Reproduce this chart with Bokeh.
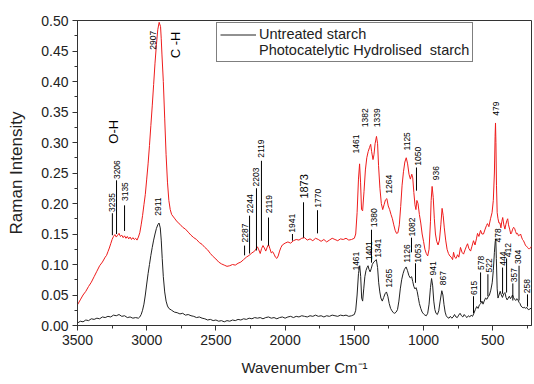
import math
from bokeh.plotting import figure
from bokeh.models import (Range1d, SingleIntervalTicker, NumeralTickFormatter,
                          Legend, LegendItem)
from bokeh.core.properties import value
from bokeh.embed import file_html
from bokeh.resources import INLINE

FONT = "Liberation Sans"

# ---------------- data: photocatalytic hydrolysed starch (red) ----------------
red_wn = [3500, 3480, 3460, 3440, 3420, 3400, 3380, 3360, 3340, 3320, 3300, 3290, 3280, 3270,
          3260, 3250, 3240, 3230, 3220, 3210, 3200, 3190, 3180, 3170, 3160, 3150, 3140, 3130,
          3120, 3110, 3100, 3090, 3080, 3070, 3060, 3050, 3040, 3030, 3020, 3010, 3000, 2990,
          2980, 2970, 2960, 2950, 2940, 2930, 2920, 2910, 2900, 2895, 2890, 2880, 2870, 2860,
          2850, 2840, 2830, 2820, 2800, 2780, 2760, 2740, 2720, 2700, 2680, 2660, 2640, 2620,
          2600, 2580, 2560, 2540, 2520, 2500, 2480, 2460, 2440, 2420, 2400, 2380, 2360, 2340,
          2320, 2300, 2280, 2260, 2240, 2220, 2200, 2190, 2180, 2170, 2160, 2150, 2140, 2130,
          2120, 2110, 2100, 2090, 2080, 2070, 2060, 2050, 2040, 2030, 2020, 2000, 1980, 1960,
          1940, 1920, 1900, 1880, 1860, 1840, 1820, 1800, 1780, 1760, 1740, 1720, 1700, 1680,
          1660, 1640, 1620, 1600, 1580, 1560, 1540, 1520, 1500, 1490, 1480, 1470, 1462, 1455,
          1448, 1440, 1430, 1420, 1410, 1400, 1390, 1382, 1375, 1365, 1358, 1350, 1340, 1332,
          1325, 1315, 1305, 1295, 1285, 1275, 1265, 1255, 1245, 1235, 1225, 1215, 1205, 1195,
          1185, 1175, 1165, 1155, 1145, 1135, 1125, 1115, 1105, 1095, 1085, 1078, 1070, 1062,
          1055, 1048, 1040, 1030, 1020, 1010, 1000, 990, 980, 970, 960, 950, 945, 938,
          930, 922, 914, 905, 895, 885, 875, 866, 858, 850, 840, 830, 820, 810,
          800, 790, 783, 775, 765, 754, 745, 733, 722, 711, 700, 690, 682, 672,
          660, 650, 639, 628, 618, 610, 600, 588, 578, 567, 555, 545, 538, 528,
          516, 505, 496, 488, 483, 480, 477, 473, 468, 462, 455, 448, 441, 435,
          428, 420, 412, 405, 398, 392, 386, 378, 370, 364, 356, 349, 342, 335,
          328, 321, 314, 306, 299, 292, 285, 278, 270, 263, 256, 249, 242, 235,
          227, 220]
red_int = [0.034, 0.042, 0.050, 0.056, 0.064, 0.071, 0.080, 0.089, 0.098, 0.104, 0.112, 0.115, 0.121, 0.127,
           0.134, 0.141, 0.146, 0.149, 0.145, 0.148, 0.151, 0.146, 0.148, 0.144, 0.147, 0.143, 0.146, 0.142,
           0.145, 0.141, 0.144, 0.141, 0.143, 0.140, 0.145, 0.152, 0.165, 0.180, 0.198, 0.215, 0.240, 0.265,
           0.295, 0.328, 0.360, 0.395, 0.430, 0.460, 0.485, 0.497, 0.490, 0.470, 0.445, 0.400, 0.340, 0.280,
           0.235, 0.205, 0.190, 0.182, 0.176, 0.170, 0.166, 0.161, 0.158, 0.153, 0.148, 0.144, 0.141, 0.136,
           0.133, 0.128, 0.124, 0.118, 0.113, 0.109, 0.104, 0.101, 0.099, 0.097, 0.098, 0.100, 0.099, 0.102,
           0.104, 0.108, 0.112, 0.115, 0.119, 0.122, 0.129, 0.124, 0.118, 0.126, 0.131, 0.127, 0.122, 0.128,
           0.133, 0.126, 0.119, 0.121, 0.117, 0.112, 0.110, 0.114, 0.122, 0.128, 0.132, 0.135, 0.137, 0.135,
           0.139, 0.141, 0.140, 0.143, 0.144, 0.140, 0.142, 0.139, 0.143, 0.141, 0.138, 0.141, 0.137, 0.140,
           0.143, 0.141, 0.139, 0.142, 0.141, 0.143, 0.140, 0.141, 0.143, 0.150, 0.185, 0.240, 0.265, 0.235,
           0.190, 0.188, 0.220, 0.255, 0.275, 0.285, 0.292, 0.297, 0.285, 0.272, 0.280, 0.298, 0.310, 0.298,
           0.262, 0.225, 0.200, 0.190, 0.198, 0.206, 0.208, 0.196, 0.190, 0.182, 0.175, 0.165, 0.156, 0.151,
           0.152, 0.165, 0.195, 0.230, 0.252, 0.268, 0.275, 0.265, 0.248, 0.240, 0.248, 0.242, 0.218, 0.198,
           0.190, 0.205, 0.200, 0.182, 0.168, 0.150, 0.138, 0.125, 0.118, 0.114, 0.125, 0.170, 0.205, 0.228,
           0.210, 0.175, 0.150, 0.138, 0.132, 0.140, 0.165, 0.192, 0.180, 0.160, 0.140, 0.125, 0.118, 0.114,
           0.112, 0.108, 0.120, 0.112, 0.110, 0.116, 0.112, 0.128, 0.120, 0.117, 0.124, 0.130, 0.134, 0.126,
           0.122, 0.130, 0.139, 0.132, 0.142, 0.151, 0.146, 0.156, 0.150, 0.150, 0.158, 0.164, 0.167, 0.162,
           0.175, 0.185, 0.205, 0.250, 0.310, 0.332, 0.300, 0.230, 0.185, 0.175, 0.168, 0.168, 0.160, 0.170,
           0.177, 0.165, 0.158, 0.166, 0.172, 0.175, 0.165, 0.158, 0.150, 0.152, 0.158, 0.161, 0.159, 0.154,
           0.150, 0.151, 0.147, 0.148, 0.150, 0.145, 0.141, 0.139, 0.135, 0.131, 0.130, 0.128, 0.126, 0.126,
           0.127, 0.130]

# ---------------- data: untreated starch (black) ----------------
blk_wn = [3500, 3480, 3460, 3440, 3420, 3400, 3380, 3360, 3340, 3320, 3300, 3280, 3260, 3240,
          3220, 3200, 3180, 3160, 3140, 3120, 3100, 3080, 3060, 3050, 3040, 3030, 3020, 3010,
          3000, 2990, 2980, 2970, 2960, 2950, 2940, 2930, 2920, 2911, 2902, 2895, 2888, 2880,
          2870, 2860, 2850, 2840, 2820, 2800, 2780, 2760, 2740, 2720, 2700, 2680, 2660, 2640,
          2620, 2600, 2580, 2560, 2540, 2520, 2500, 2480, 2460, 2440, 2420, 2400, 2380, 2360,
          2340, 2320, 2300, 2280, 2260, 2240, 2220, 2200, 2180, 2160, 2140, 2120, 2100, 2080,
          2060, 2040, 2020, 2000, 1980, 1960, 1940, 1920, 1900, 1880, 1860, 1840, 1820, 1800,
          1780, 1760, 1740, 1720, 1700, 1680, 1660, 1640, 1620, 1600, 1580, 1560, 1540, 1520,
          1500, 1490, 1480, 1470, 1461, 1454, 1447, 1440, 1432, 1424, 1416, 1408, 1401, 1394,
          1386, 1378, 1370, 1360, 1350, 1341, 1332, 1324, 1316, 1308, 1298, 1288, 1278, 1268,
          1258, 1248, 1238, 1228, 1218, 1208, 1198, 1188, 1178, 1168, 1158, 1148, 1138, 1126,
          1116, 1106, 1096, 1086, 1078, 1070, 1062, 1054, 1046, 1038, 1030, 1020, 1010, 1000,
          990, 980, 970, 960, 950, 942, 934, 926, 918, 910, 900, 890, 880, 868,
          860, 852, 844, 836, 826, 816, 806, 796, 786, 776, 766, 756, 746, 736,
          726, 716, 706, 696, 686, 676, 666, 656, 646, 636, 626, 616, 606, 596,
          586, 578, 570, 562, 552, 542, 534, 524, 514, 504, 496, 488, 482, 478,
          474, 468, 462, 455, 446, 438, 430, 420, 412, 404, 396, 388, 380, 372,
          364, 357, 350, 342, 334, 326, 318, 310, 303, 296, 288, 280, 272, 264,
          256, 248, 240, 232, 220]
blk_int = [0.004, 0.007, 0.006, 0.009, 0.008, 0.011, 0.010, 0.012, 0.011, 0.014, 0.013, 0.015, 0.014, 0.017,
           0.016, 0.018, 0.015, 0.016, 0.013, 0.014, 0.012, 0.013, 0.012, 0.014, 0.018, 0.025, 0.035, 0.050,
           0.068, 0.085, 0.100, 0.115, 0.128, 0.140, 0.150, 0.159, 0.165, 0.168, 0.160, 0.140, 0.110, 0.080,
           0.055, 0.040, 0.032, 0.028, 0.025, 0.022, 0.021, 0.019, 0.020, 0.017, 0.018, 0.016, 0.015, 0.013,
           0.014, 0.012, 0.011, 0.009, 0.010, 0.008, 0.009, 0.007, 0.008, 0.006, 0.008, 0.007, 0.009, 0.008,
           0.010, 0.009, 0.011, 0.010, 0.012, 0.011, 0.013, 0.012, 0.013, 0.011, 0.013, 0.014, 0.012, 0.013,
           0.011, 0.013, 0.014, 0.012, 0.014, 0.015, 0.013, 0.015, 0.014, 0.016, 0.015, 0.014, 0.016, 0.015,
           0.017, 0.015, 0.016, 0.014, 0.016, 0.015, 0.017, 0.016, 0.015, 0.017, 0.016, 0.017, 0.015, 0.016,
           0.018, 0.025, 0.050, 0.085, 0.098, 0.080, 0.045, 0.040, 0.060, 0.080, 0.090, 0.095, 0.098, 0.092,
           0.088, 0.093, 0.100, 0.104, 0.106, 0.108, 0.095, 0.070, 0.055, 0.045, 0.040, 0.046, 0.052, 0.055,
           0.048, 0.036, 0.028, 0.024, 0.021, 0.020, 0.022, 0.026, 0.040, 0.060, 0.075, 0.085, 0.092, 0.096,
           0.090, 0.082, 0.078, 0.080, 0.072, 0.064, 0.060, 0.062, 0.056, 0.046, 0.036, 0.028, 0.022, 0.019,
           0.017, 0.016, 0.020, 0.035, 0.062, 0.077, 0.065, 0.040, 0.026, 0.020, 0.018, 0.024, 0.040, 0.057,
           0.050, 0.034, 0.022, 0.016, 0.013, 0.012, 0.015, 0.012, 0.014, 0.018, 0.014, 0.013, 0.017, 0.020,
           0.016, 0.014, 0.018, 0.015, 0.013, 0.016, 0.014, 0.017, 0.015, 0.020, 0.026, 0.031, 0.028, 0.034,
           0.036, 0.040, 0.035, 0.040, 0.045, 0.043, 0.047, 0.050, 0.058, 0.070, 0.090, 0.120, 0.138, 0.142,
           0.110, 0.060, 0.045, 0.050, 0.056, 0.050, 0.046, 0.052, 0.054, 0.046, 0.042, 0.045, 0.048, 0.044,
           0.047, 0.050, 0.046, 0.043, 0.041, 0.044, 0.042, 0.038, 0.036, 0.032, 0.030, 0.029, 0.030, 0.028,
           0.030, 0.027, 0.026, 0.027, 0.029]

# ---------------- peak annotations ----------------
red_labels = ["3235", "3206", "3135", "2907", "2287", "2244", "2203", "2119", "2119", "1941",
              "1770", "1461", "1382", "1339", "1264", "1125", "1050", "936", "479"]
red_text_x = [3248, 3218, 3160, 2958, 2293, 2257, 2212, 2171, 2120, 1947,
              1766, 1487, 1426, 1334, 1253, 1123, 1038, 913, 473]
red_text_y = [0.186, 0.240, 0.204, 0.452, 0.136, 0.184, 0.228, 0.275, 0.184, 0.152,
              0.193, 0.282, 0.325, 0.325, 0.216, 0.287, 0.262, 0.238, 0.344]
red_lead_x = [3248, 3218, 3160, 2207, 2293, 2257, 2207, 2171, 2120, 1947, 1766, 1051]
red_lead_y0 = [0.148, 0.150, 0.155, 0.123, 0.115, 0.118, 0.123, 0.139, 0.131, 0.139, 0.151, 0.221]
red_lead_y1 = [0.184, 0.238, 0.197, 0.123, 0.131, 0.180, 0.225, 0.270, 0.177, 0.150, 0.189, 0.259]

big_label = ["1873"]
big_label_x = [1867]
big_label_y = [0.208]
big_lead = ([1867], [0.144], [0.202])

blk_labels = ["2911", "1461", "1401", "1380", "1341", "1265", "1126", "1082", "1053", "941",
              "867", "615", "578", "522", "478", "444", "412", "357", "304", "258"]
blk_text_x = [2915, 1491, 1397, 1361, 1332, 1253, 1123, 1080, 1043, 935,
              856, 639, 588, 530, 465, 429, 393, 350, 314, 249]
blk_text_y = [0.180, 0.090, 0.107, 0.161, 0.111, 0.062, 0.103, 0.146, 0.103, 0.082,
              0.066, 0.050, 0.091, 0.087, 0.136, 0.098, 0.112, 0.071, 0.101, 0.053]
blk_lead_x = [1376, 1087, 1058, 639, 588, 535, 429, 400, 355, 310, 249]
blk_lead_y0 = [0.103, 0.120, 0.070, 0.020, 0.038, 0.048, 0.052, 0.054, 0.041, 0.041, 0.031]
blk_lead_y1 = [0.157, 0.144, 0.102, 0.048, 0.087, 0.084, 0.095, 0.110, 0.069, 0.098, 0.051]

group_labels = ["O-H", "C -H"]
group_x = [3240, 2792]
group_y = [0.298, 0.438]

legend_labels = ["Untreated starch", "Photocatelytic Hydrolised  starch"]

# ---------------- figure ----------------
p = figure(width=534, height=384, output_backend="svg", toolbar_location=None,
           x_range=Range1d(3500, 220), y_range=Range1d(0, 0.5),
           min_border_left=77, min_border_right=3, min_border_top=20, min_border_bottom=59)
p.background_fill_color = "white"
p.border_fill_color = "white"
p.outline_line_color = "#333333"
p.outline_line_width = 1
p.xgrid.visible = False
p.ygrid.visible = False

red_r = p.line(red_wn, red_int, line_color="#ee1c1c", line_width=1)
blk_r = p.line(blk_wn, blk_int, line_color="#222222", line_width=1)

p.segment(red_lead_x, red_lead_y0, red_lead_x, red_lead_y1, line_color="black", line_width=1)
p.segment(big_lead[0], big_lead[1], big_lead[0], big_lead[2], line_color="black", line_width=1)
p.segment(blk_lead_x, blk_lead_y0, blk_lead_x, blk_lead_y1, line_color="black", line_width=1)

ang = math.pi / 2
p.text(x=red_text_x, y=red_text_y, text=red_labels, angle=ang, text_align="left",
       text_baseline="middle", text_font=value(FONT), text_font_size=value("8.5px"),
       text_color="black")
p.text(x=blk_text_x, y=blk_text_y, text=blk_labels, angle=ang, text_align="left",
       text_baseline="middle", text_font=value(FONT), text_font_size=value("8.5px"),
       text_color="black")
p.text(x=big_label_x, y=big_label_y, text=big_label, angle=ang, text_align="left",
       text_baseline="middle", text_font=value(FONT), text_font_size=value("11px"),
       text_color="black")
p.text(x=group_x, y=group_y, text=group_labels, angle=ang, text_align="left",
       text_baseline="middle", text_font=value(FONT), text_font_size=value("13px"),
       text_color="black")

p.xaxis.ticker = SingleIntervalTicker(interval=500, num_minor_ticks=2)
p.yaxis.ticker = SingleIntervalTicker(interval=0.05, num_minor_ticks=2)
p.yaxis.formatter = NumeralTickFormatter(format="0.00")
for ax in (p.xaxis[0], p.yaxis[0]):
    ax.axis_line_color = "#333333"
    ax.major_tick_line_color = "#333333"
    ax.minor_tick_line_color = "#333333"
    ax.major_tick_out = 5
    ax.major_tick_in = 0
    ax.minor_tick_out = 3
    ax.minor_tick_in = 0
    ax.major_label_text_font = FONT
    ax.major_label_text_font_size = "14px"
    ax.major_label_text_color = "#222222"
    ax.major_label_standoff = 4
    ax.axis_label_text_font = FONT
    ax.axis_label_text_font_style = "normal"
    ax.axis_label_text_color = "#222222"
p.xaxis.axis_label = "Wavenumber Cm\u207b\u00b9"
p.xaxis.axis_label_text_font_size = "15px"
p.xaxis.axis_label_standoff = 11
p.yaxis.axis_label = "Raman Intensity"
p.yaxis.axis_label_text_font_size = "17px"
p.yaxis.axis_label_standoff = 12

dummy = p.line([], [], line_alpha=0)
legend = Legend(items=[LegendItem(label=legend_labels[0], renderers=[blk_r]),
                       LegendItem(label=legend_labels[1], renderers=[dummy])],
                location=(139, 263))
legend.border_line_color = "black"
legend.border_line_width = 1
legend.background_fill_color = "white"
legend.background_fill_alpha = 1
legend.label_text_font = FONT
legend.label_text_font_size = "14.5px"
legend.label_text_color = "#222222"
legend.padding = 3
legend.spacing = 0
legend.margin = 0
legend.glyph_width = 36
legend.glyph_height = 15
legend.label_height = 15
legend.label_standoff = 3
p.add_layout(legend, "center")

open("out.html", "w").write(file_html(p, INLINE))
